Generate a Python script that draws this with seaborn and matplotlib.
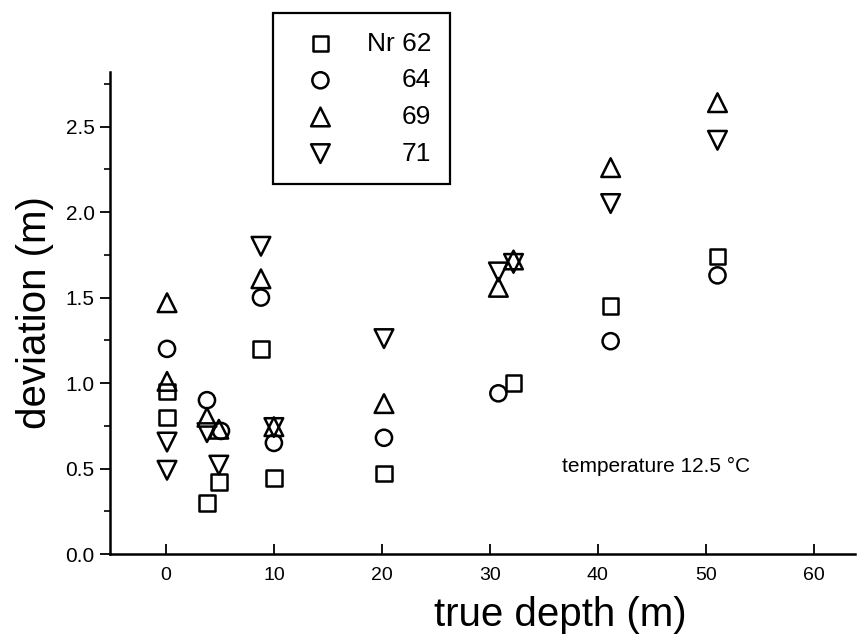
import matplotlib.pyplot as plt
import seaborn as sns
from matplotlib.ticker import MultipleLocator

# depth (m) and deviation (m) for each instrument
depth_62 = [0.1, 0.1, 3.8, 4.9, 8.8, 10.0, 20.2, 32.2, 41.2, 51.1]
dev_62 = [0.95, 0.80, 0.30, 0.42, 1.20, 0.445, 0.47, 1.00, 1.45, 1.74]

depth_64 = [0.1, 3.8, 5.1, 8.8, 10.0, 20.2, 30.8, 41.2, 51.1]
dev_64 = [1.20, 0.90, 0.72, 1.50, 0.65, 0.68, 0.94, 1.245, 1.63]

depth_69 = [0.1, 0.1, 3.8, 4.9, 8.8, 10.0, 20.2, 30.8, 32.2, 41.2, 51.1]
dev_69 = [1.47, 1.01, 0.80, 0.73, 1.61, 0.745, 0.88, 1.56, 1.72, 2.26, 2.64]

depth_71 = [0.1, 0.1, 3.8, 4.9, 8.8, 10.0, 20.2, 30.8, 32.2, 41.2, 51.1]
dev_71 = [0.655, 0.49, 0.71, 0.52, 1.80, 0.74, 1.26, 1.65, 1.70, 2.05, 2.42]

labels = ['Nr 62', '64', '69', '71']

sns.set_style('ticks')
plt.rcParams['font.family'] = ['Liberation Sans', 'DejaVu Sans']
plt.rcParams['text.color'] = 'black'
plt.rcParams['axes.labelcolor'] = 'black'
plt.rcParams['xtick.color'] = 'black'
plt.rcParams['ytick.color'] = 'black'

fig = plt.figure(figsize=(8.58, 6.42), dpi=100)
ax = fig.add_axes([0.128, 0.137, 0.868, 0.751])

series = [(depth_62, dev_62, 's', 125),
          (depth_64, dev_64, 'o', 135),
          (depth_69, dev_69, '^', 180),
          (depth_71, dev_71, 'v', 180)]

for (xs, ys, mk, size), lab in zip(series, labels):
    sns.scatterplot(x=xs, y=ys, marker=mk, s=size, facecolor='none',
                    edgecolor='black', linewidth=1.8, label=lab,
                    legend=False, ax=ax, zorder=3)

ax.set_xlim(-5.2, 63.8)
ax.set_ylim(0, 2.82)

sns.despine(ax=ax)
for sp in ['left', 'bottom']:
    ax.spines[sp].set_linewidth(1.8)
    ax.spines[sp].set_color('black')

ax.xaxis.set_major_locator(MultipleLocator(10))
ax.yaxis.set_major_locator(MultipleLocator(0.5))
ax.yaxis.set_minor_locator(MultipleLocator(0.25))
ax.tick_params(axis='x', direction='in', length=7, width=1.3, pad=9,
               labelsize=14)
ax.tick_params(axis='y', which='major', direction='out', length=7, width=1.3,
               pad=4, labelsize=15)
ax.tick_params(axis='y', which='minor', direction='out', length=4, width=1.2)

ax.set_xlabel('true depth (m)', fontsize=29)
ax.xaxis.set_label_coords(0.605, -0.088)
ax.set_ylabel('deviation (m)', fontsize=29, labelpad=8)

ax.text(36.7, 0.515, 'temperature 12.5 \u00b0C', fontsize=15,
        ha='left', va='center')

leg = ax.legend(loc='upper left', bbox_to_anchor=(0.219, 1.122),
                fontsize=19, frameon=True, fancybox=False,
                edgecolor='black', framealpha=1, borderaxespad=0,
                borderpad=0.7, labelspacing=0.48, handlelength=2.2,
                handletextpad=0.65)
leg.get_frame().set_linewidth(1.6)

# right-align the legend labels like the original
fig.canvas.draw()
texts = leg.get_texts()
widths = [t.get_window_extent().width for t in texts]
wmax = max(widths)
for t, w in zip(texts, widths):
    t.set_x(wmax - w)

fig.savefig('out.png', dpi=100)
